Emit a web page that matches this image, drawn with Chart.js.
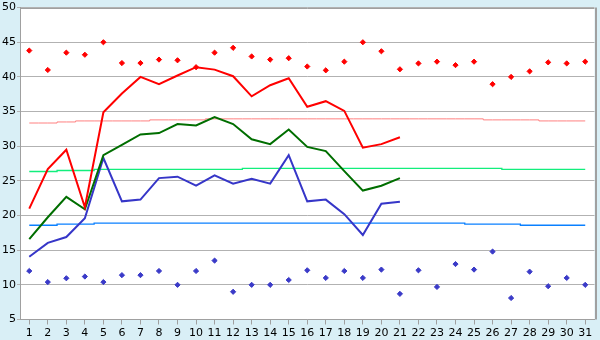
<!DOCTYPE html>
<html>
<head>
<meta charset="utf-8">
<script src="https://cdn.jsdelivr.net/npm/chart.js@4/dist/chart.umd.min.js"></script>
<style>
html,body{margin:0;padding:0;background:#d9eff6;}
#wrap{width:600px;height:340px;position:relative;}
</style>
</head>
<body>
<div id="wrap"><canvas id="c" width="600" height="340"></canvas></div>
<script>
const days = ['1','2','3','4','5','6','7','8','9','10','11','12','13','14','15','16','17','18','19','20','21','22','23','24','25','26','27','28','29','30','31'];
const yTicks = [5,10,15,20,25,30,35,40,45,50];
const recordMax = [43.8,41,43.5,43.2,45,42,42,42.5,42.4,41.4,43.5,44.2,42.95,42.5,42.7,41.5,40.95,42.2,45,43.7,41.1,41.95,42.2,41.7,42.2,38.95,40,40.8,42.1,41.95,42.2];
const recordMin = [12,10.4,10.95,11.2,10.4,11.4,11.4,12,10,12,13.5,9,10,10,10.7,12.1,11,12,11,12.2,8.7,12.1,9.7,13,12.2,14.8,8.1,11.9,9.8,11,10];
const tempMax = [21,26.7,29.5,21.2,34.9,37.6,40,38.95,40.2,41.4,41.05,40.1,37.2,38.8,39.8,35.7,36.5,35.1,29.8,30.3,31.3];
const tempMean = [16.6,19.75,22.7,20.9,28.7,30.2,31.7,31.9,33.2,33.0,34.2,33.2,31.0,30.3,32.4,29.9,29.3,26.4,23.6,24.3,25.4];
const tempMin = [14.05,16.05,16.9,19.6,28.3,22.05,22.3,25.4,25.6,24.3,25.8,24.6,25.3,24.6,28.7,22.05,22.3,20.2,17.2,21.7,22.0];
const normalMax = [33.35,33.35,33.5,33.65,33.65,33.65,33.65,33.8,33.8,33.8,33.95,33.95,33.95,33.95,33.95,33.95,33.95,33.95,33.95,33.95,33.95,33.95,33.95,33.95,33.95,33.8,33.8,33.8,33.65,33.65,33.65];
const normalMean = [26.35,26.35,26.5,26.5,26.65,26.65,26.65,26.65,26.65,26.65,26.65,26.65,26.8,26.8,26.8,26.8,26.8,26.8,26.8,26.8,26.8,26.8,26.8,26.8,26.8,26.8,26.65,26.65,26.65,26.65,26.65];
const normalMin = [18.6,18.6,18.75,18.75,18.9,18.9,18.9,18.9,18.9,18.9,18.9,18.9,18.9,18.9,18.9,18.9,18.9,18.9,18.9,18.9,18.9,18.9,18.9,18.9,18.75,18.75,18.75,18.6,18.6,18.6,18.6];

const GRID = '#b2b2b2';
const AXIS = '#a0a0a0';
const FONT = {family:'DejaVu Sans', size:11};

const framePlugin = {
  id:'frame',
  beforeDraw(chart){
    const {ctx, chartArea:a} = chart;
    ctx.save();
    ctx.fillStyle = '#d9eff6';
    ctx.fillRect(0,0,chart.width,chart.height);
    ctx.fillStyle = '#ffffff';
    ctx.fillRect(a.left,a.top,a.right-a.left,a.bottom-a.top);
    ctx.restore();
  },
  afterDraw(chart){
    const {ctx, chartArea:a} = chart;
    ctx.save();
    ctx.strokeStyle = AXIS;
    ctx.lineWidth = 1;
    ctx.beginPath();
    ctx.moveTo(a.left, Math.round(a.top)+0.5);
    ctx.lineTo(a.right, Math.round(a.top)+0.5);
    ctx.stroke();
    ctx.lineWidth = 2;
    ctx.beginPath();
    ctx.moveTo(Math.round(a.right)+1, a.top);
    ctx.lineTo(Math.round(a.right)+1, a.bottom);
    ctx.stroke();
    ctx.restore();
  }
};

const lineDs = (data,color,w,extra) => Object.assign({type:'line',data,borderColor:color,backgroundColor:color,borderWidth:w,pointRadius:0,tension:0,fill:false,spanGaps:false}, extra||{});
const dotDs = (data,color) => ({type:'line',data,showLine:false,borderColor:color,backgroundColor:color,pointStyle:'rectRot',pointRadius:2.6,pointBorderWidth:1,pointHoverRadius:2.6});

new Chart(document.getElementById('c'),{
  type:'line',
  data:{
    labels:days,
    datasets:[
      lineDs(tempMax,'#ff0000',2),
      lineDs(tempMean,'#006e00',2),
      lineDs(tempMin,'#3636c8',2),
      dotDs(recordMax,'#ff0000'),
      dotDs(recordMin,'#3a3ac8'),
      lineDs(normalMax,'#ff8080',1,{stepped:'middle'}),
      lineDs(normalMean,'#12ee7c',1.3,{stepped:'middle'}),
      lineDs(normalMin,'#0a80ff',1.3,{stepped:'middle'})
    ]
  },
  options:{
    responsive:false,
    animation:false,
    events:[],
    layout:{padding:{top:5,right:5.5,left:0,bottom:0}},
    plugins:{legend:{display:false},tooltip:{enabled:false},title:{display:false}},
    scales:{
      x:{
        type:'category',
        offset:true,
        grid:{display:true,drawOnChartArea:false,drawTicks:true,tickLength:5,offset:false,color:AXIS},
        border:{display:true,color:AXIS,width:1},
        ticks:{font:FONT,color:'#000',padding:2,autoSkip:false,maxRotation:0,minRotation:0},
        afterFit(s){ s.height = 20.5; }
      },
      y:{
        min:5,max:50,
        afterBuildTicks(s){ s.ticks = yTicks.map(v=>({value:v})); },
        grid:{color:GRID,drawTicks:true,tickLength:3,lineWidth:1},
        border:{display:true,color:AXIS,width:1},
        ticks:{font:FONT,color:'#000',padding:1},
        afterFit(s){ s.width = 20; }
      }
    }
  },
  plugins:[framePlugin]
});
</script>
</body>
</html>
